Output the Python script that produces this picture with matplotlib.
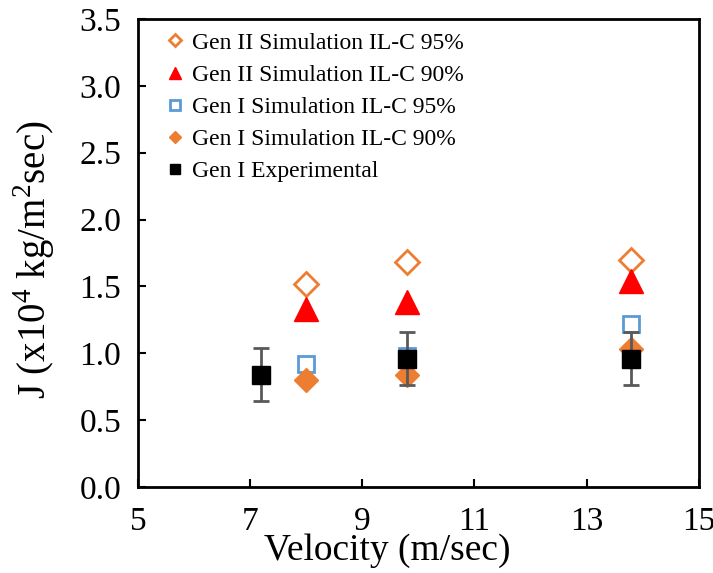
import numpy as np
import matplotlib.pyplot as plt

plt.rcParams["font.family"] = ["Liberation Serif", "DejaVu Serif"]
plt.rcParams["mathtext.fontset"] = "custom"
plt.rcParams["mathtext.rm"] = "Liberation Serif"

# data
gen2_95_x = [8.0, 9.8, 13.8]
gen2_95_y = [1.52, 1.68, 1.70]

gen2_90_x = [8.0, 9.8, 13.8]
gen2_90_y = [1.33, 1.38, 1.54]

gen1_95_x = [8.0, 9.8, 13.8]
gen1_95_y = [0.92, 0.98, 1.22]

gen1_90_x = [8.0, 9.8, 13.8]
gen1_90_y = [0.80, 0.84, 1.03]

exp_x = [7.2, 9.8, 13.8]
exp_y = [0.84, 0.96, 0.96]
exp_err = [0.20, 0.20, 0.20]

orange = "#ED7D31"
blue = "#5B9BD5"

fig = plt.figure(figsize=(7.13, 5.73), dpi=100)
ax = fig.add_axes([0.1935, 0.150, 0.7865, 0.817])

ax.plot(gen2_95_x, gen2_95_y, linestyle="none", marker="D", ms=12,
        mfc="white", mec=orange, mew=2, label="Gen II Simulation IL-C 95%")
ax.plot(gen2_90_x, gen2_90_y, linestyle="none", marker="^", ms=17,
        color="#FF0000", label="Gen II Simulation IL-C 90%")
ax.plot(gen1_95_x, gen1_95_y, linestyle="none", marker="s", ms=12,
        mfc="white", mec=blue, mew=2, label="Gen I Simulation IL-C 95%")
ax.plot(gen1_90_x, gen1_90_y, linestyle="none", marker="D", ms=12,
        color=orange, label="Gen I Simulation IL-C 90%")
ax.errorbar(exp_x, exp_y, yerr=exp_err, fmt="none", ecolor="#595959",
            elinewidth=2, capsize=6, capthick=2)
ax.plot(exp_x, exp_y, linestyle="none", marker="s", ms=13,
        color="black", label="Gen I Experimental")

ax.set_xlim(5, 15)
ax.set_ylim(0, 3.5)
ax.set_xticks([5, 7, 9, 11, 13, 15])
ax.set_yticks(np.arange(0, 3.51, 0.5))
ax.set_yticklabels([f"{v:.1f}" for v in np.arange(0, 3.51, 0.5)])

ax.tick_params(axis="both", direction="in", labelsize=24, width=1.5, length=6)
ax.tick_params(axis="x", pad=14)
ax.tick_params(axis="y", pad=12)
for s in ax.spines.values():
    s.set_linewidth(2)

ax.set_xlabel("Velocity (m/sec)", fontsize=27)
ax.xaxis.set_label_coords(0.444, -0.099)
ax.set_ylabel(r"J (x10$^4$ kg/m$^2$sec)", fontsize=28)
ax.yaxis.set_label_coords(-0.145, 0.486)

ax.legend(loc="upper left", bbox_to_anchor=(0.02, 1.012), frameon=False,
          fontsize=17, markerscale=0.55, handlelength=0.6, handletextpad=0.4,
          labelspacing=0.45, borderaxespad=0.4)

fig.savefig("out.png", dpi=100)
